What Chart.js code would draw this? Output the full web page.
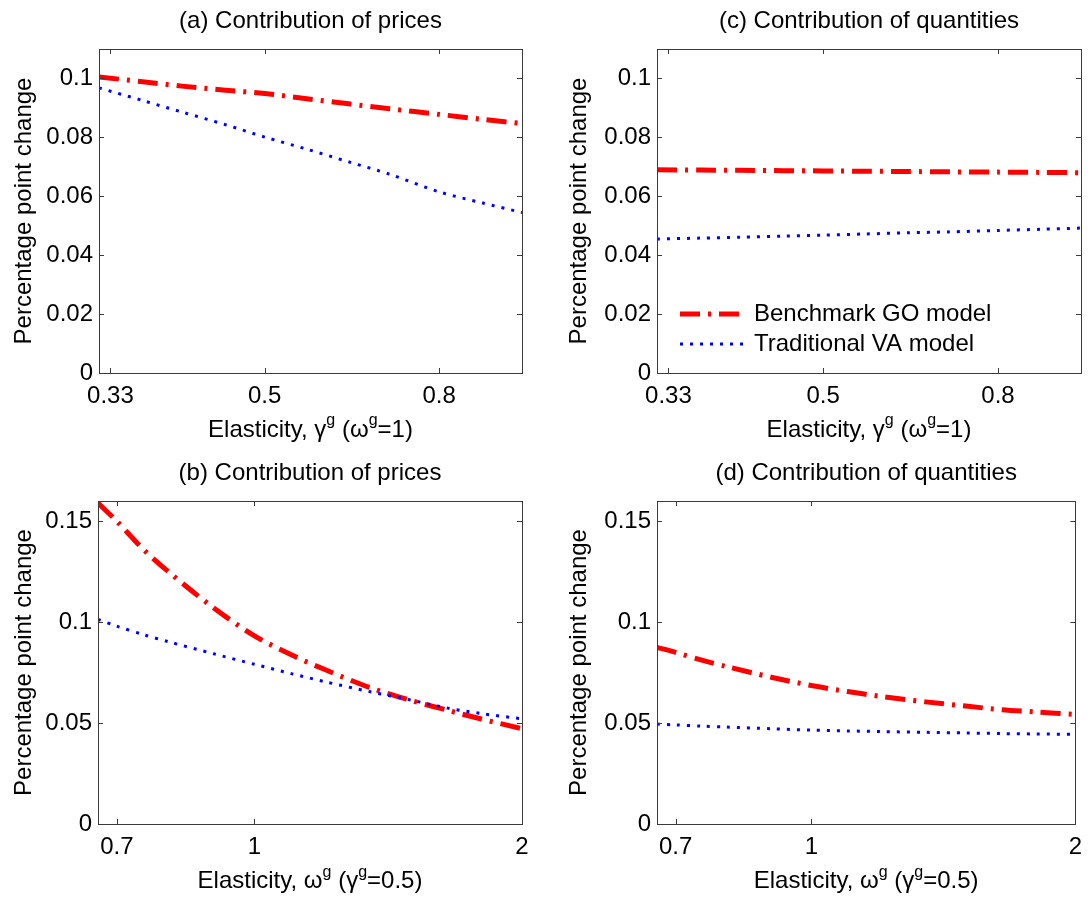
<!DOCTYPE html>
<html>
<head>
<meta charset="utf-8">
<title>Contribution of prices and quantities</title>
<script src="https://cdn.jsdelivr.net/npm/chart.js@4.4.0/dist/chart.umd.min.js"></script>
<style>
  body { margin: 0; background: #fff; }
  #wrap { position: relative; width: 1091px; height: 899px; }
  #wrap canvas { position: absolute; }
</style>
</head>
<body>
<div id="wrap">
  <canvas id="pa" width="545" height="450" style="left:0;top:0"></canvas>
  <canvas id="pc" width="546" height="450" style="left:545px;top:0"></canvas>
  <canvas id="pb" width="545" height="449" style="left:0;top:450px"></canvas>
  <canvas id="pd" width="546" height="449" style="left:545px;top:450px"></canvas>
</div>
<script>
// elasticity grid, top row (gamma^g, omega^g = 1)
const xGamma = [0.32, 0.36, 0.4, 0.45, 0.5, 0.56, 0.63, 0.7, 0.8, 0.9, 1.0];
const pricesGammaGO = [0.1005, 0.0989, 0.0974, 0.0960, 0.0949, 0.0931, 0.0913, 0.0897, 0.0878, 0.0861, 0.0847];
const pricesGammaVA = [0.0968, 0.0925, 0.0886, 0.0843, 0.0801, 0.0760, 0.0715, 0.0675, 0.0615, 0.0577, 0.0545];
const quantGammaGO = [0.0690, 0.0689, 0.0688, 0.0687, 0.0686, 0.0685, 0.0684, 0.0683, 0.0682, 0.0681, 0.0680];
const quantGammaVA = [0.0455, 0.0458, 0.0461, 0.0465, 0.0468, 0.0472, 0.0476, 0.0479, 0.0484, 0.0488, 0.0492];

// elasticity grid, bottom row (omega^g, gamma^g = 0.5)
const xOmega = [0.6667, 0.7, 0.75, 0.8, 0.9, 1.0, 1.1, 1.2, 1.35, 1.5, 1.65, 1.8, 2.0];
const pricesOmegaGO = [0.159, 0.150, 0.136, 0.125, 0.107, 0.0932, 0.0838, 0.0765, 0.0675, 0.0612, 0.0563, 0.0520, 0.0472];
const pricesOmegaVA = [0.1013, 0.0980, 0.0938, 0.0903, 0.0843, 0.0791, 0.0745, 0.0705, 0.0655, 0.0614, 0.0574, 0.0547, 0.0521];
const quantOmegaGO = [0.0875, 0.0850, 0.0812, 0.0780, 0.0727, 0.0686, 0.0656, 0.0632, 0.0605, 0.0584, 0.0566, 0.0555, 0.0543];
const quantOmegaVA = [0.0495, 0.0491, 0.0485, 0.0480, 0.0472, 0.0465, 0.0461, 0.0458, 0.0454, 0.0451, 0.0448, 0.0446, 0.0444];

const seriesNames = ['Benchmark GO model', 'Traditional VA model'];
const xTicksGamma = [0.33, 0.5, 0.8];
const xTicksOmega = [0.7, 1, 2];
const yTicksTop = [0, 0.02, 0.04, 0.06, 0.08, 0.1];
const yTicksBottom = [0, 0.05, 0.1, 0.15];

const FONT = "'Liberation Sans', Arial, Helvetica, sans-serif";
const RED = '#ff0000';
const BLUE = '#0000ff';
const AXIS = '#3a3a3a';

Chart.defaults.font.family = FONT;
Chart.defaults.color = '#000';

function pts(xs, ys) {
  let out = [];
  for (let i = 0; i < xs.length; i++) {
    out.push({x: xs[i], y: ys[i]});
  }
  return out;
};

// box round the plot + matlab style inward ticks
const boxTicks = {
  id: 'boxTicks',
  afterDraw(chart) {
    const ctx = chart.ctx, a = chart.chartArea;
    const x = chart.scales.x, y = chart.scales.y;
    const L = 5;
    ctx.save();
    ctx.strokeStyle = AXIS;
    ctx.lineWidth = 1;
    ctx.strokeRect(Math.round(a.left) + 0.5, Math.round(a.top) + 0.5,
      Math.round(a.right - a.left), Math.round(a.bottom - a.top));
    ctx.beginPath();
    x.ticks.forEach(t => {
      const px = Math.round(x.getPixelForValue(t.value)) + 0.5;
      ctx.moveTo(px, a.bottom); ctx.lineTo(px, a.bottom - L);
      ctx.moveTo(px, a.top); ctx.lineTo(px, a.top + L);
    });
    y.ticks.forEach(t => {
      const py = Math.round(y.getPixelForValue(t.value)) + 0.5;
      ctx.moveTo(a.left, py); ctx.lineTo(a.left + L, py);
      ctx.moveTo(a.right, py); ctx.lineTo(a.right - L, py);
    });
    ctx.stroke();
    ctx.restore();
  }
};

// x axis title with superscripts
const xLabel = {
  id: 'xLabel',
  afterDraw(chart, args, opts) {
    if (!opts.parts) return;
    const ctx = chart.ctx, a = chart.chartArea;
    const big = '24px ' + FONT, small = '16px ' + FONT;
    let w = 0;
    opts.parts.forEach(p => { ctx.font = p[1] ? small : big; w += ctx.measureText(p[0]).width; });
    let x = (a.left + a.right) / 2 - w / 2;
    ctx.save();
    ctx.fillStyle = '#000';
    ctx.textAlign = 'left';
    ctx.textBaseline = 'middle';
    opts.parts.forEach(p => {
      ctx.font = p[1] ? small : big;
      ctx.fillText(p[0], x, opts.y - (p[1] ? 9 : 0));
      x += ctx.measureText(p[0]).width;
    });
    ctx.restore();
  }
};

// legend drawn inside plot (c)
const seriesKey = {
  id: 'seriesKey',
  afterDraw(chart, args, opts) {
    if (!opts.show) return;
    const ctx = chart.ctx, a = chart.chartArea;
    const rows = [a.bottom - 59, a.bottom - 29];
    ctx.save();
    chart.data.datasets.forEach((ds, i) => {
      ctx.strokeStyle = ds.borderColor;
      ctx.lineWidth = ds.borderWidth;
      ctx.setLineDash(ds.borderDash);
      ctx.beginPath();
      ctx.moveTo(a.left + 23, rows[i]);
      ctx.lineTo(a.left + 89, rows[i]);
      ctx.stroke();
      ctx.setLineDash([]);
      ctx.fillStyle = '#000';
      ctx.font = '24px ' + FONT;
      ctx.textAlign = 'left';
      ctx.textBaseline = 'middle';
      ctx.fillText(ds.label, a.left + 97, rows[i]);
    });
    ctx.restore();
  }
};

function makePanel(id, cfg) {
  return new Chart(document.getElementById(id), {
    type: 'line',
    data: {
      datasets: [
        {label: seriesNames[0], data: pts(cfg.xs, cfg.go), borderColor: RED, borderWidth: 5,
         borderDash: [20, 8, 3, 8], pointRadius: 0, fill: false, tension: 0.3, order: 1},
        {label: seriesNames[1], data: pts(cfg.xs, cfg.va), borderColor: BLUE, borderWidth: 3,
         borderDash: [3, 7], pointRadius: 0, fill: false, tension: 0.3, order: 0}
      ]
    },
    options: {
      responsive: false,
      animation: false,
      events: [],
      layout: {padding: {left: 0, right: cfg.padRight, top: 0, bottom: 0}},
      plugins: {
        legend: {display: false},
        tooltip: {enabled: false},
        title: {display: true, text: cfg.title, fullSize: false, color: '#000',
          font: {size: 24, weight: 'normal'}, padding: {top: cfg.tTop, bottom: cfg.tBottom}},
        xLabel: {parts: cfg.xParts, y: cfg.xLabelY},
        seriesKey: {show: !!cfg.legend}
      },
      scales: {
        x: {
          type: 'logarithmic',
          min: cfg.xMin, max: cfg.xMax,
          grid: {display: false, drawTicks: false},
          border: {display: false},
          ticks: {font: {size: 24}, color: '#000', padding: 9, autoSkip: false, maxRotation: 0,
            callback: v => String(v)},
          afterBuildTicks: s => { s.ticks = cfg.xTicks.map(v => ({value: v})); },
          afterFit: s => { s.height = cfg.xH; }
        },
        y: {
          type: 'linear',
          min: 0, max: cfg.yMax,
          grid: {display: false, drawTicks: false},
          border: {display: false},
          ticks: {font: {size: 24}, color: '#000', padding: 6, callback: v => String(v)},
          afterBuildTicks: s => { s.ticks = cfg.yTicks.map(v => ({value: v})); },
          afterFit: s => { s.width = cfg.yW; },
          title: {display: true, text: 'Percentage point change', color: '#000',
            font: {size: 24}, padding: {top: cfg.yTitlePad, bottom: 0}}
        }
      }
    },
    plugins: [boxTicks, xLabel, seriesKey]
  });
};

const gammaLabel = [['Elasticity, \u03b3', 0], ['g', 1], [' (\u03c9', 0], ['g', 1], ['=1)', 0]];
const omegaLabel = [['Elasticity, \u03c9', 0], ['g', 1], [' (\u03b3', 0], ['g', 1], ['=0.5)', 0]];

makePanel('pa', {title: '(a) Contribution of prices', xs: xGamma, go: pricesGammaGO, va: pricesGammaVA,
  xMin: 0.32, xMax: 1, xTicks: xTicksGamma, yMax: 0.11, yTicks: yTicksTop,
  padRight: 23, yW: 99, xH: 77, tTop: 7.3, tBottom: 12.9, yTitlePad: 9.6,
  xParts: gammaLabel, xLabelY: 430});
makePanel('pc', {title: '(c) Contribution of quantities', xs: xGamma, go: quantGammaGO, va: quantGammaVA,
  xMin: 0.32, xMax: 1, xTicks: xTicksGamma, yMax: 0.11, yTicks: yTicksTop,
  padRight: 10, yW: 112, xH: 77, tTop: 7.3, tBottom: 12.9, yTitlePad: 20.4,
  xParts: gammaLabel, xLabelY: 430, legend: true});
makePanel('pb', {title: '(b) Contribution of prices', xs: xOmega, go: pricesOmegaGO, va: pricesOmegaVA,
  xMin: 0.6667, xMax: 2, xTicks: xTicksOmega, yMax: 0.16, yTicks: yTicksBottom,
  padRight: 23, yW: 98, xH: 75, tTop: 8.9, tBottom: 13.3, yTitlePad: 9.6,
  xParts: omegaLabel, xLabelY: 431.5});
makePanel('pd', {title: '(d) Contribution of quantities', xs: xOmega, go: quantOmegaGO, va: quantOmegaVA,
  xMin: 0.6667, xMax: 2, xTicks: xTicksOmega, yMax: 0.16, yTicks: yTicksBottom,
  padRight: 10, yW: 112, xH: 75, tTop: 8.9, tBottom: 13.3, yTitlePad: 20.4,
  xParts: omegaLabel, xLabelY: 431.5});
</script>
</body>
</html>
